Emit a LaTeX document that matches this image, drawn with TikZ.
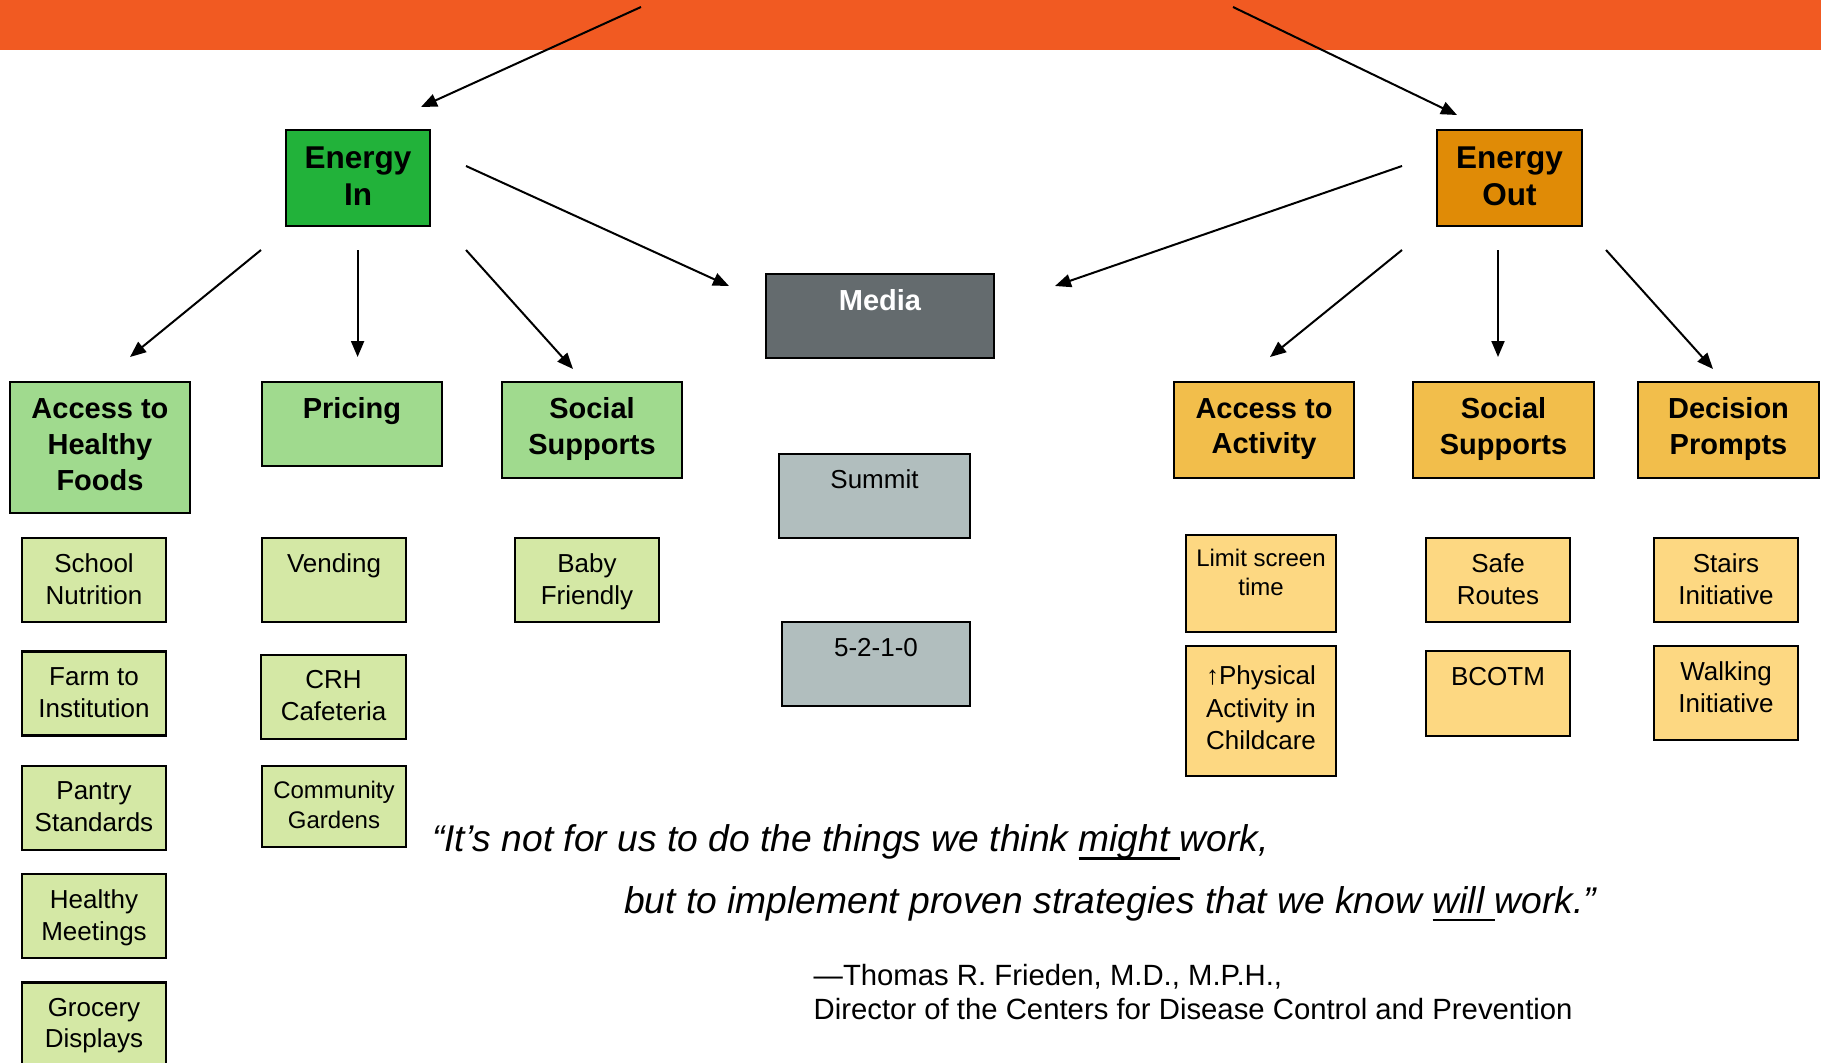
\documentclass[tikz,border=0pt]{standalone}
\usepackage{fontspec}
\setmainfont{Liberation Sans}
\usetikzlibrary{arrows.meta}
\definecolor{banner}{HTML}{F15A22}
\definecolor{ein}{HTML}{22B23A}
\definecolor{eout}{HTML}{E08B06}
\definecolor{gtwo}{HTML}{A0DA8E}
\definecolor{otwo}{HTML}{F2BE4B}
\definecolor{gthree}{HTML}{D4E8A5}
\definecolor{othree}{HTML}{FDD882}
\definecolor{mediac}{HTML}{646B6E}
\definecolor{greyc}{HTML}{B1BEBE}
\newcommand\myul[1]{\setbox0\hbox{#1}\rlap{\rule[-7.8pt]{\wd0}{2.3pt}}\box0}
\begin{document}
\begin{tikzpicture}[x=1pt,y=-1pt,
  box/.style={draw=black, line width=2.4pt, rectangle, inner sep=0pt, outer sep=0pt, anchor=north west},
  lab/.style={anchor=north, inner sep=0pt, align=center},
  tA/.style={font=\fontsize{31.5}{37.4}\selectfont\bfseries},
  tB/.style={font=\fontsize{29}{35.8}\selectfont\bfseries},
  tC/.style={font=\fontsize{26}{31.8}\selectfont},
  tD/.style={font=\fontsize{24}{29}\selectfont},
  arr/.style={draw=black, line width=2pt, -{Triangle[length=16pt,width=13pt]}}]
\useasboundingbox (0,0) rectangle (1821,1063);
\clip (0,0) rectangle (1821,1063);
\fill[banner] (0,0) rectangle (1821,50);

% top level
\node[box, fill=ein, minimum width=144pt, minimum height=96pt,
  label={[lab,tA,yshift=-16.7pt]north:Energy\\In}] (ein) at (286,130) {};
\node[box, fill=eout, minimum width=145pt, minimum height=96pt,
  label={[lab,tA,yshift=-16.7pt]north:Energy\\Out}] (eout) at (1437,130) {};

% level 2 green
\node[box, fill=gtwo, minimum width=180pt, minimum height=131pt,
  label={[lab,tB,yshift=-16.4pt]north:Access to\\Healthy\\Foods}] (ahf) at (10,382) {};
\node[box, fill=gtwo, minimum width=180pt, minimum height=84pt,
  label={[lab,tB,yshift=-15.6pt]north:Pricing}] (pric) at (262,382) {};
\node[box, fill=gtwo, minimum width=180pt, minimum height=96pt,
  label={[lab,tB,yshift=-15.6pt]north:Social\\Supports}] (socin) at (502,382) {};

% media column
\node[box, fill=mediac, minimum width=228pt, minimum height=84pt,
  label={[lab,tB,text=white,yshift=-15.7pt]north:Media}] (media) at (766,274) {};
\node[box, fill=greyc, minimum width=191pt, minimum height=84pt,
  label={[lab,tC,yshift=-15pt]north:Summit}] (summit) at (779,454) {};
\node[box, fill=greyc, minimum width=188pt, minimum height=84pt,
  label={[lab,tC,yshift=-16pt]north:5-2-1-0}] (five) at (782,622) {};

% level 2 orange
\node[box, fill=otwo, minimum width=180pt, minimum height=96pt,
  label={[lab,tB,yshift=-16pt]north:Access to\\Activity}] (aact) at (1174,382) {};
\node[box, fill=otwo, minimum width=181pt, minimum height=96pt,
  label={[lab,tB,yshift=-15.6pt]north:Social\\Supports}] (socout) at (1413,382) {};
\node[box, fill=otwo, minimum width=181pt, minimum height=96pt,
  label={[lab,tB,yshift=-15.6pt]north:Decision\\Prompts}] (dec) at (1638,382) {};

% level 3 green
\node[box, fill=gthree, minimum width=144pt, minimum height=84pt,
  label={[lab,tC,yshift=-15.6pt]north:School\\Nutrition}] (school) at (22,538) {};
\node[box, fill=gthree, minimum width=144pt, minimum height=84pt,
  label={[lab,tC,yshift=-15.6pt]north:Farm to\\Institution}] (farm) at (22,651.6) {};
\node[box, fill=gthree, minimum width=144pt, minimum height=84pt,
  label={[lab,tC,yshift=-15.2pt]north:Pantry\\Standards}] (pantry) at (22,766.2) {};
\node[box, fill=gthree, minimum width=144pt, minimum height=84pt,
  label={[lab,tC,yshift=-15.9pt]north:Healthy\\Meetings}] (hmeet) at (22,873.9) {};
\node[box, fill=gthree, minimum width=144pt, minimum height=110pt,
  label={[lab,tC,yshift=-15.5pt]north:Grocery\\Displays}] (groc) at (22,982.3) {};
\node[box, fill=gthree, minimum width=144pt, minimum height=84pt,
  label={[lab,tC,yshift=-15.6pt]north:Vending}] (vend) at (262,538) {};
\node[box, fill=gthree, minimum width=145pt, minimum height=84pt,
  label={[lab,tC,yshift=-15.6pt]north:CRH\\Cafeteria}] (crh) at (261,655) {};
\node[box, fill=gthree, minimum width=144pt, minimum height=81pt,
  label={[lab,font=\fontsize{24}{30.5}\selectfont,yshift=-14.2pt]north:Community\\Gardens}] (comm) at (262,766.2) {};
\node[box, fill=gthree, minimum width=144pt, minimum height=84pt,
  label={[lab,tC,yshift=-15.6pt]north:Baby\\Friendly}] (baby) at (515,538) {};

% level 3 orange
\node[box, fill=othree, minimum width=150pt, minimum height=97pt,
  label={[lab,tD,yshift=-14.3pt]north:Limit screen\\time}] (limit) at (1186,535) {};
\node[box, fill=othree, minimum width=150pt, minimum height=130pt,
  label={[lab,font=\fontsize{26}{32.5}\selectfont,yshift=-19.5pt]north:↑Physical\\Activity in\\Childcare}] (phys) at (1186,646) {};
\node[box, fill=othree, minimum width=144pt, minimum height=84pt,
  label={[lab,font=\fontsize{26}{32}\selectfont,yshift=-15.6pt]north:Safe\\Routes}] (safe) at (1426,538) {};
\node[box, fill=othree, minimum width=144pt, minimum height=85pt,
  label={[lab,tC,yshift=-15.7pt]north:BCOTM}] (bcotm) at (1426,651) {};
\node[box, fill=othree, minimum width=144pt, minimum height=84pt,
  label={[lab,font=\fontsize{26}{32}\selectfont,yshift=-15.6pt]north:Stairs\\Initiative}] (stairs) at (1654,538) {};
\node[box, fill=othree, minimum width=144pt, minimum height=94pt,
  label={[lab,font=\fontsize{26}{31.5}\selectfont,yshift=-15.7pt]north:Walking\\Initiative}] (walk) at (1654,646) {};

% quote
\node[anchor=base west, inner sep=0pt, font=\fontsize{37.2}{44}\selectfont\itshape] (q1) at (432,851.7)
  {“It’s not for us to do the things we think \myul{might\ }work,};
\node[anchor=base west, inner sep=0pt, font=\fontsize{37.2}{44}\selectfont\itshape] (q2) at (624,913)
  {but to implement proven strategies that we know \myul{will\ }work.”};
\node[anchor=base west, inner sep=0pt, font=\fontsize{29.3}{35}\selectfont] (au1) at (813.5,985)
  {—Thomas R. Frieden, M.D., M.P.H.,};
\node[anchor=base west, inner sep=0pt, font=\fontsize{29.3}{35}\selectfont] (au2) at (813.5,1019.3)
  {Director of the Centers for Disease Control and Prevention};

% connector end points
\coordinate (topL) at (641,7);
\coordinate (topR) at (1233,7);
\coordinate (einIn) at (421,107);
\coordinate (eoutIn) at (1457,115);
\coordinate (einA) at (261,250);   \coordinate (ahfIn) at (130,357);
\coordinate (einB) at (357.6,250); \coordinate (pricIn) at (357.6,357);
\coordinate (einC) at (466,250);   \coordinate (socinIn) at (573,369);
\coordinate (einD) at (466,166);   \coordinate (mediaInL) at (729,286);
\coordinate (eoutD) at (1402,166); \coordinate (mediaInR) at (1055,286);
\coordinate (eoutA) at (1402,250); \coordinate (aactIn) at (1270,357);
\coordinate (eoutB) at (1498,250); \coordinate (socoutIn) at (1498,357);
\coordinate (eoutC) at (1606,250); \coordinate (decIn) at (1713,369);

\draw[arr] (topL) -- (einIn);
\draw[arr] (topR) -- (eoutIn);
\draw[arr] (einA) -- (ahfIn);
\draw[arr] (einB) -- (pricIn);
\draw[arr] (einC) -- (socinIn);
\draw[arr] (einD) -- (mediaInL);
\draw[arr] (eoutD) -- (mediaInR);
\draw[arr] (eoutA) -- (aactIn);
\draw[arr] (eoutB) -- (socoutIn);
\draw[arr] (eoutC) -- (decIn);
\end{tikzpicture}
\end{document}
